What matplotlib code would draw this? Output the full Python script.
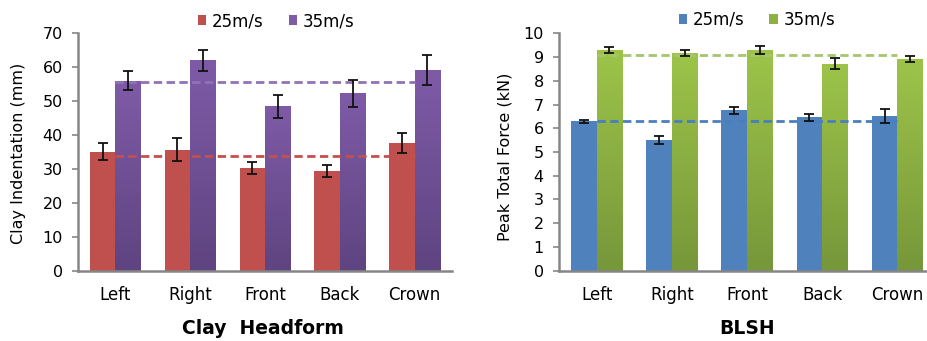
import numpy as np
import matplotlib
matplotlib.use("Agg")
import matplotlib.pyplot as plt
from matplotlib.patches import Patch
from matplotlib.colors import LinearSegmentedColormap

# categories shared by both panels
locations = ["Left", "Right", "Front", "Back", "Crown"]
speeds = ["25m/s", "35m/s"]

# Clay headform indentation (mm)
clay_25 = [35.0, 35.7, 30.2, 29.3, 37.6]
clay_25_err = [2.5, 3.4, 1.8, 1.8, 3.0]
clay_35 = [56.0, 62.0, 48.4, 52.3, 59.0]
clay_35_err = [2.9, 3.1, 3.3, 4.0, 4.4]
clay_avg = [33.8, 55.6]

# BLSH peak total force (kN)
blsh_25 = [6.29, 5.50, 6.75, 6.46, 6.51]
blsh_25_err = [0.06, 0.17, 0.14, 0.15, 0.29]
blsh_35 = [9.30, 9.17, 9.30, 8.72, 8.92]
blsh_35_err = [0.12, 0.13, 0.18, 0.22, 0.11]
blsh_avg = [6.30, 9.09]

W, H = 928, 341
fig = plt.figure(figsize=(W / 100, H / 100), dpi=100)
plt.rcParams['font.family'] = ['DejaVu Sans']

GREY = "#868686"


def gradient_bars(ax, x, vals, top, bottom, width):
    """Bars filled with a vertical gradient (light top, dark bottom)."""
    bars = ax.bar(x, vals, width=width, color=top, edgecolor="none", zorder=2)
    if top == bottom:
        return bars
    cmap = LinearSegmentedColormap.from_list("g", [bottom, top])
    grad = np.linspace(0, 1, 256).reshape(-1, 1)
    for b in bars:
        x0, y0 = b.get_x(), b.get_y()
        im = ax.imshow(grad, cmap=cmap, origin="lower", aspect="auto",
                       extent=(x0, x0 + b.get_width(), y0, y0 + b.get_height()),
                       zorder=2.1)
        im.set_clip_path(b)
    return bars


def panel(rect, v25, e25, v35, e35, avg, c25, c35, c35_dark, dash25, dash35,
          ymax, ystep, ylabel, label_xy):
    ax = fig.add_axes(rect)
    x = np.arange(len(locations))
    bw = 0.34
    gradient_bars(ax, x - bw / 2, v25, c25, c25, bw)
    gradient_bars(ax, x + bw / 2, v35, c35, c35_dark, bw)
    # average lines
    ax.plot([x[0], x[-1]], [avg[0], avg[0]], color=dash25, lw=2.0,
            dashes=(3.0, 1.6), zorder=3)
    ax.plot([x[0], x[-1]], [avg[1], avg[1]], color=dash35, lw=2.0,
            dashes=(3.0, 1.6), zorder=3)
    ax.errorbar(x - bw / 2, v25, yerr=e25, fmt="none", ecolor="#111111",
                elinewidth=1.3, capsize=3.5, capthick=1.3, zorder=5)
    ax.errorbar(x + bw / 2, v35, yerr=e35, fmt="none", ecolor="#111111",
                elinewidth=1.3, capsize=3.5, capthick=1.3, zorder=5)
    ax.set_xlim(-0.5, len(locations) - 0.5)
    ax.set_ylim(0, ymax)
    ax.set_yticks(np.arange(0, ymax + ystep / 2, ystep))
    ax.set_xticks(x)
    ax.set_xticklabels(locations, fontsize=12)
    ax.tick_params(axis="x", length=0, pad=11)
    ax.tick_params(axis="y", length=4, color=GREY, width=1.2, labelsize=11.5, pad=7)
    for s in ("top", "right"):
        ax.spines[s].set_visible(False)
    for s in ("left", "bottom"):
        ax.spines[s].set_color(GREY)
        ax.spines[s].set_linewidth(1.8)
    ax.set_ylabel(ylabel, fontsize=11.5)
    ax.yaxis.label.set_va("center")
    ax.yaxis.set_label_coords(*label_xy)
    return ax


ax1 = panel([78 / W, 70 / H, 374 / W, 238 / H], clay_25, clay_25_err,
            clay_35, clay_35_err, clay_avg,
            "#C0504D", "#7F5BA7", "#5E4480", "#C4504D", "#8F73B6",
            70, 10, "Clay Indentation (mm)", (-0.160, 0.496))
ax2 = panel([559 / W, 70.3 / H, 376 / W, 237.4 / H], blsh_25, blsh_25_err,
            blsh_35, blsh_35_err, blsh_avg,
            "#4F81BD", "#9DC449", "#76973A", "#4A7EC0", "#A6C66C",
            10, 1, "Peak Total Force (kN)", (-0.144, 0.479))

fig.text(263 / W, 1 - 329 / H, "Clay  Headform", fontsize=13.5,
         fontweight="bold", ha="center", va="center")
fig.text(747 / W, 1 - 329 / H, "BLSH", fontsize=13.5,
         fontweight="bold", ha="center", va="center")

for center, cols in (((276, 21), ("#C0504D", "#7F5BA7")),
                     ((757, 20), ("#4F81BD", "#8DB043"))):
    handles = [Patch(facecolor=c, edgecolor="none") for c in cols]
    fig.legend(handles, speeds, loc="center",
               bbox_to_anchor=(center[0] / W, 1 - center[1] / H),
               ncol=2, frameon=False, fontsize=12, handlelength=0.5,
               handleheight=0.5, handletextpad=0.35, columnspacing=1.5)

fig.savefig("out.png", dpi=100)
